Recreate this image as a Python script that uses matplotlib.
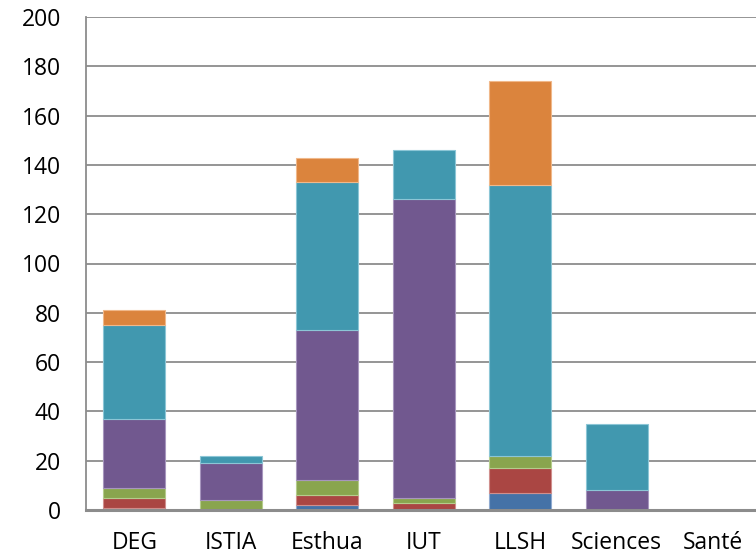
import matplotlib
matplotlib.use("Agg")
import matplotlib.pyplot as plt
import numpy as np

categories = ["DEG", "ISTIA", "Esthua", "IUT", "LLSH", "Sciences", "Santé"]
s_blue   = [1, 0, 2, 0, 7, 0, 0]
s_red    = [4, 0, 4, 3, 10, 0, 0]
s_green  = [4, 4, 6, 2, 5, 0, 0]
s_purple = [28, 15, 61, 121, 0, 8, 0]
s_teal   = [38, 3, 60, 20, 110, 27, 0]
s_orange = [6, 0, 10, 0, 42, 0, 0]
series = [s_blue, s_red, s_green, s_purple, s_teal, s_orange]
colors = ["#4572A7", "#AA4643", "#89A54E", "#71588F", "#4198AF", "#DB843D"]
edges = ["#8FAAD0", "#D08F8D", "#B5CC8C", "#A796BE", "#8CC6D6", "#F0B88A"]
yticks = [0, 20, 40, 60, 80, 100, 120, 140, 160, 180, 200]

plt.rcParams['font.family'] = ['Open Sans', 'DejaVu Sans']
fig = plt.figure(figsize=(7.56, 5.58), dpi=100)
ax = fig.add_axes([86/756, 1-510/558, 675.5/756, (510-17)/558])

x = np.arange(len(categories))
bottom = np.zeros(len(categories))
for vals, c, ec in zip(series, colors, edges):
    v = np.array(vals, dtype=float)
    m = v > 0
    ax.bar(x[m], v[m], width=0.64, bottom=bottom[m], color=c, edgecolor=ec,
           linewidth=0.8, zorder=3)
    bottom += v

ax.set_xlim(-0.5, len(categories) - 0.5)
ax.set_ylim(0, 200)
ax.set_yticks(yticks)
ax.set_yticklabels([str(t) for t in yticks], fontsize=16.5)
ax.set_xticks(x)
ax.set_xticklabels(categories, fontsize=16.5)
ax.tick_params(axis='both', length=0)
ax.tick_params(axis='y', pad=18)
ax.tick_params(axis='x', pad=15)
ax.yaxis.grid(True, color="#8C8C8C", linewidth=1.3, zorder=0)
ax.set_axisbelow(True)
for s in ["top", "right"]:
    ax.spines[s].set_visible(False)
ax.spines["left"].set_color("#8C8C8C")
ax.spines["left"].set_linewidth(1.3)
ax.spines["bottom"].set_color("#8C8C8C")
ax.spines["bottom"].set_linewidth(2.2)
ax.spines["bottom"].set_zorder(4)

fig.savefig("out.png", dpi=100)
